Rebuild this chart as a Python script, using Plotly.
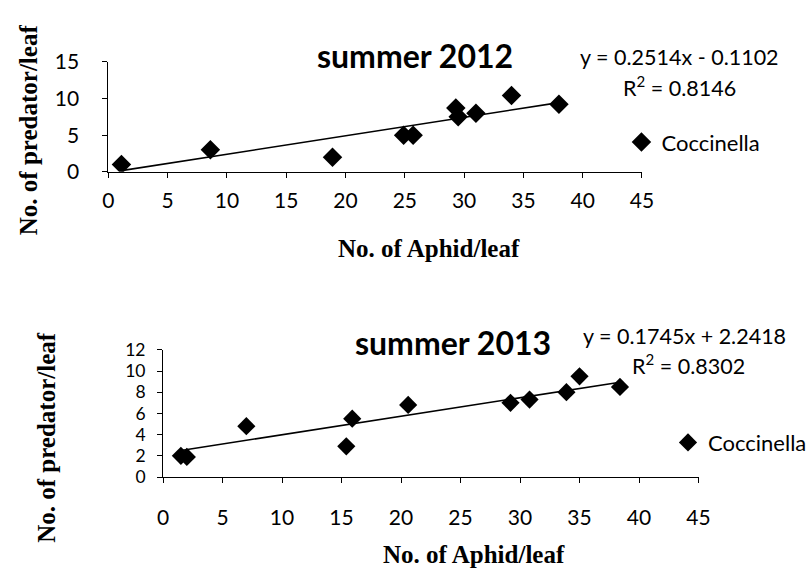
import plotly.graph_objects as go

# ---- data ----
x_ticks = [0, 5, 10, 15, 20, 25, 30, 35, 40, 45]
top_y_ticks = [0, 5, 10, 15]
bot_y_ticks = [0, 2, 4, 6, 8, 10, 12]

aphid_2012 = [1.1, 8.6, 18.9, 24.9, 25.7, 29.3, 29.5, 31.0, 34.0, 38.0]
pred_2012 = [1.0, 3.0, 2.0, 5.0, 5.0, 8.7, 7.5, 8.0, 10.4, 9.2]
slope_2012, icpt_2012, r2_2012 = 0.2514, -0.1102, 0.8146

aphid_2013 = [1.5, 2.0, 7.0, 15.4, 15.9, 20.6, 29.2, 30.8, 33.9, 35.0, 38.4]
pred_2013 = [2.0, 1.9, 4.8, 2.9, 5.5, 6.8, 7.0, 7.3, 8.0, 9.5, 8.5]
slope_2013, icpt_2013, r2_2013 = 0.1745, 2.2418, 0.8302

series_name = "Coccinella"
titles = ["summer 2012", "summer 2013"]
x_title = "No. of Aphid/leaf"
y_title = "No. of predator/leaf"

W, H = 812, 577
def fx(px):
    return px / W
def fy(py):
    return 1 - py / H

fig = go.Figure()

def trend(xs, m, b):
    x0, x1 = min(xs), max(xs)
    return [x0, x1], [m * x0 + b, m * x1 + b]

tx, ty = trend(aphid_2012, slope_2012, icpt_2012)
fig.add_trace(go.Scatter(x=tx, y=ty, mode="lines", line=dict(color="black", width=1.6),
                         showlegend=False, xaxis="x", yaxis="y", hoverinfo="skip"))
fig.add_trace(go.Scatter(x=aphid_2012, y=pred_2012, mode="markers", name=series_name,
                         marker=dict(symbol="diamond", size=15, color="black"),
                         xaxis="x", yaxis="y", legend="legend"))

bx, by = trend(aphid_2013, slope_2013, icpt_2013)
fig.add_trace(go.Scatter(x=bx, y=by, mode="lines", line=dict(color="black", width=1.6),
                         showlegend=False, xaxis="x2", yaxis="y2", hoverinfo="skip"))
fig.add_trace(go.Scatter(x=aphid_2013, y=pred_2013, mode="markers", name=series_name,
                         marker=dict(symbol="diamond", size=14, color="black"),
                         xaxis="x2", yaxis="y2", legend="legend2"))

def axis_common(size):
    return dict(showline=True, linecolor="black", linewidth=1, showgrid=False,
                zeroline=False, ticks="outside", ticklen=5, tickcolor="black",
                tickwidth=1, tickfont=dict(family="Lato, sans-serif", size=size, color="black"))

fig.update_layout(
    width=W, height=H,
    margin=dict(l=0, r=0, t=0, b=0),
    paper_bgcolor="white", plot_bgcolor="white",
    xaxis=dict(domain=[fx(105), fx(652)], range=[0, 45], tickvals=x_ticks,
               anchor="y", ticklabelstandoff=5, **axis_common(21)),
    yaxis=dict(domain=[fy(165), fy(50)], range=[0, 15], tickvals=top_y_ticks,
               anchor="x", ticklabelstandoff=19, **axis_common(21)),
    xaxis2=dict(domain=[fx(161), fx(710)], range=[0, 45], tickvals=x_ticks,
                anchor="y2", ticklabelstandoff=17, **axis_common(21)),
    yaxis2=dict(domain=[fy(484), fy(351)], range=[0, 12], tickvals=bot_y_ticks,
                anchor="x2", ticklabelstandoff=8, **axis_common(17.5)),
    legend=dict(x=fx(631), y=fy(134), xanchor="left", yanchor="middle",
                font=dict(family="Lato, sans-serif", size=22, color="black"),
                bgcolor="rgba(0,0,0,0)", itemwidth=30),
    legend2=dict(x=fx(679), y=fy(448), xanchor="left", yanchor="middle",
                 font=dict(family="Lato, sans-serif", size=22, color="black"),
                 bgcolor="rgba(0,0,0,0)", itemwidth=30),
)

ann = []
title_font = dict(family="Lato, sans-serif", size=32, color="black", weight="bold")
ann.append(dict(text="<b>%s</b>" % titles[0], x=fx(419), y=fy(43), font=title_font))
ann.append(dict(text="<b>%s</b>" % titles[1], x=fx(458), y=fy(343), font=title_font))

eq_font = dict(family="Lato, sans-serif", size=21.5, color="black")
def fmt_eq(m, b):
    sign = "-" if b < 0 else "+"
    return "y = %.4fx %s %.4f" % (m, sign, abs(b))
ann.append(dict(text=fmt_eq(slope_2012, icpt_2012), x=fx(691), y=fy(45), font=eq_font))
ann.append(dict(text="R<sup>2</sup> = %.4f" % r2_2012, x=fx(691), y=fy(76), font=eq_font))
ann.append(dict(text=fmt_eq(slope_2013, icpt_2013), x=fx(696), y=fy(337), font=eq_font))
ann.append(dict(text="R<sup>2</sup> = %.4f" % r2_2013, x=fx(700), y=fy(366), font=eq_font))

axt_font = dict(family="Liberation Serif, Times New Roman, serif", size=25, color="black")
ann.append(dict(text="<b>%s</b>" % x_title, x=fx(434), y=fy(245), font=axt_font))
ann.append(dict(text="<b>%s</b>" % x_title, x=fx(480), y=fy(565), font=axt_font))
ann.append(dict(text="<b>%s</b>" % y_title, x=fx(23), y=fy(121), font=axt_font, textangle=-90))
ann.append(dict(text="<b>%s</b>" % y_title, x=fx(42), y=fy(442), font=axt_font, textangle=-90))

for a in ann:
    a.update(xref="paper", yref="paper", showarrow=False, xanchor="center", yanchor="middle")
fig.update_layout(annotations=ann)

fig.write_html("out.html")
